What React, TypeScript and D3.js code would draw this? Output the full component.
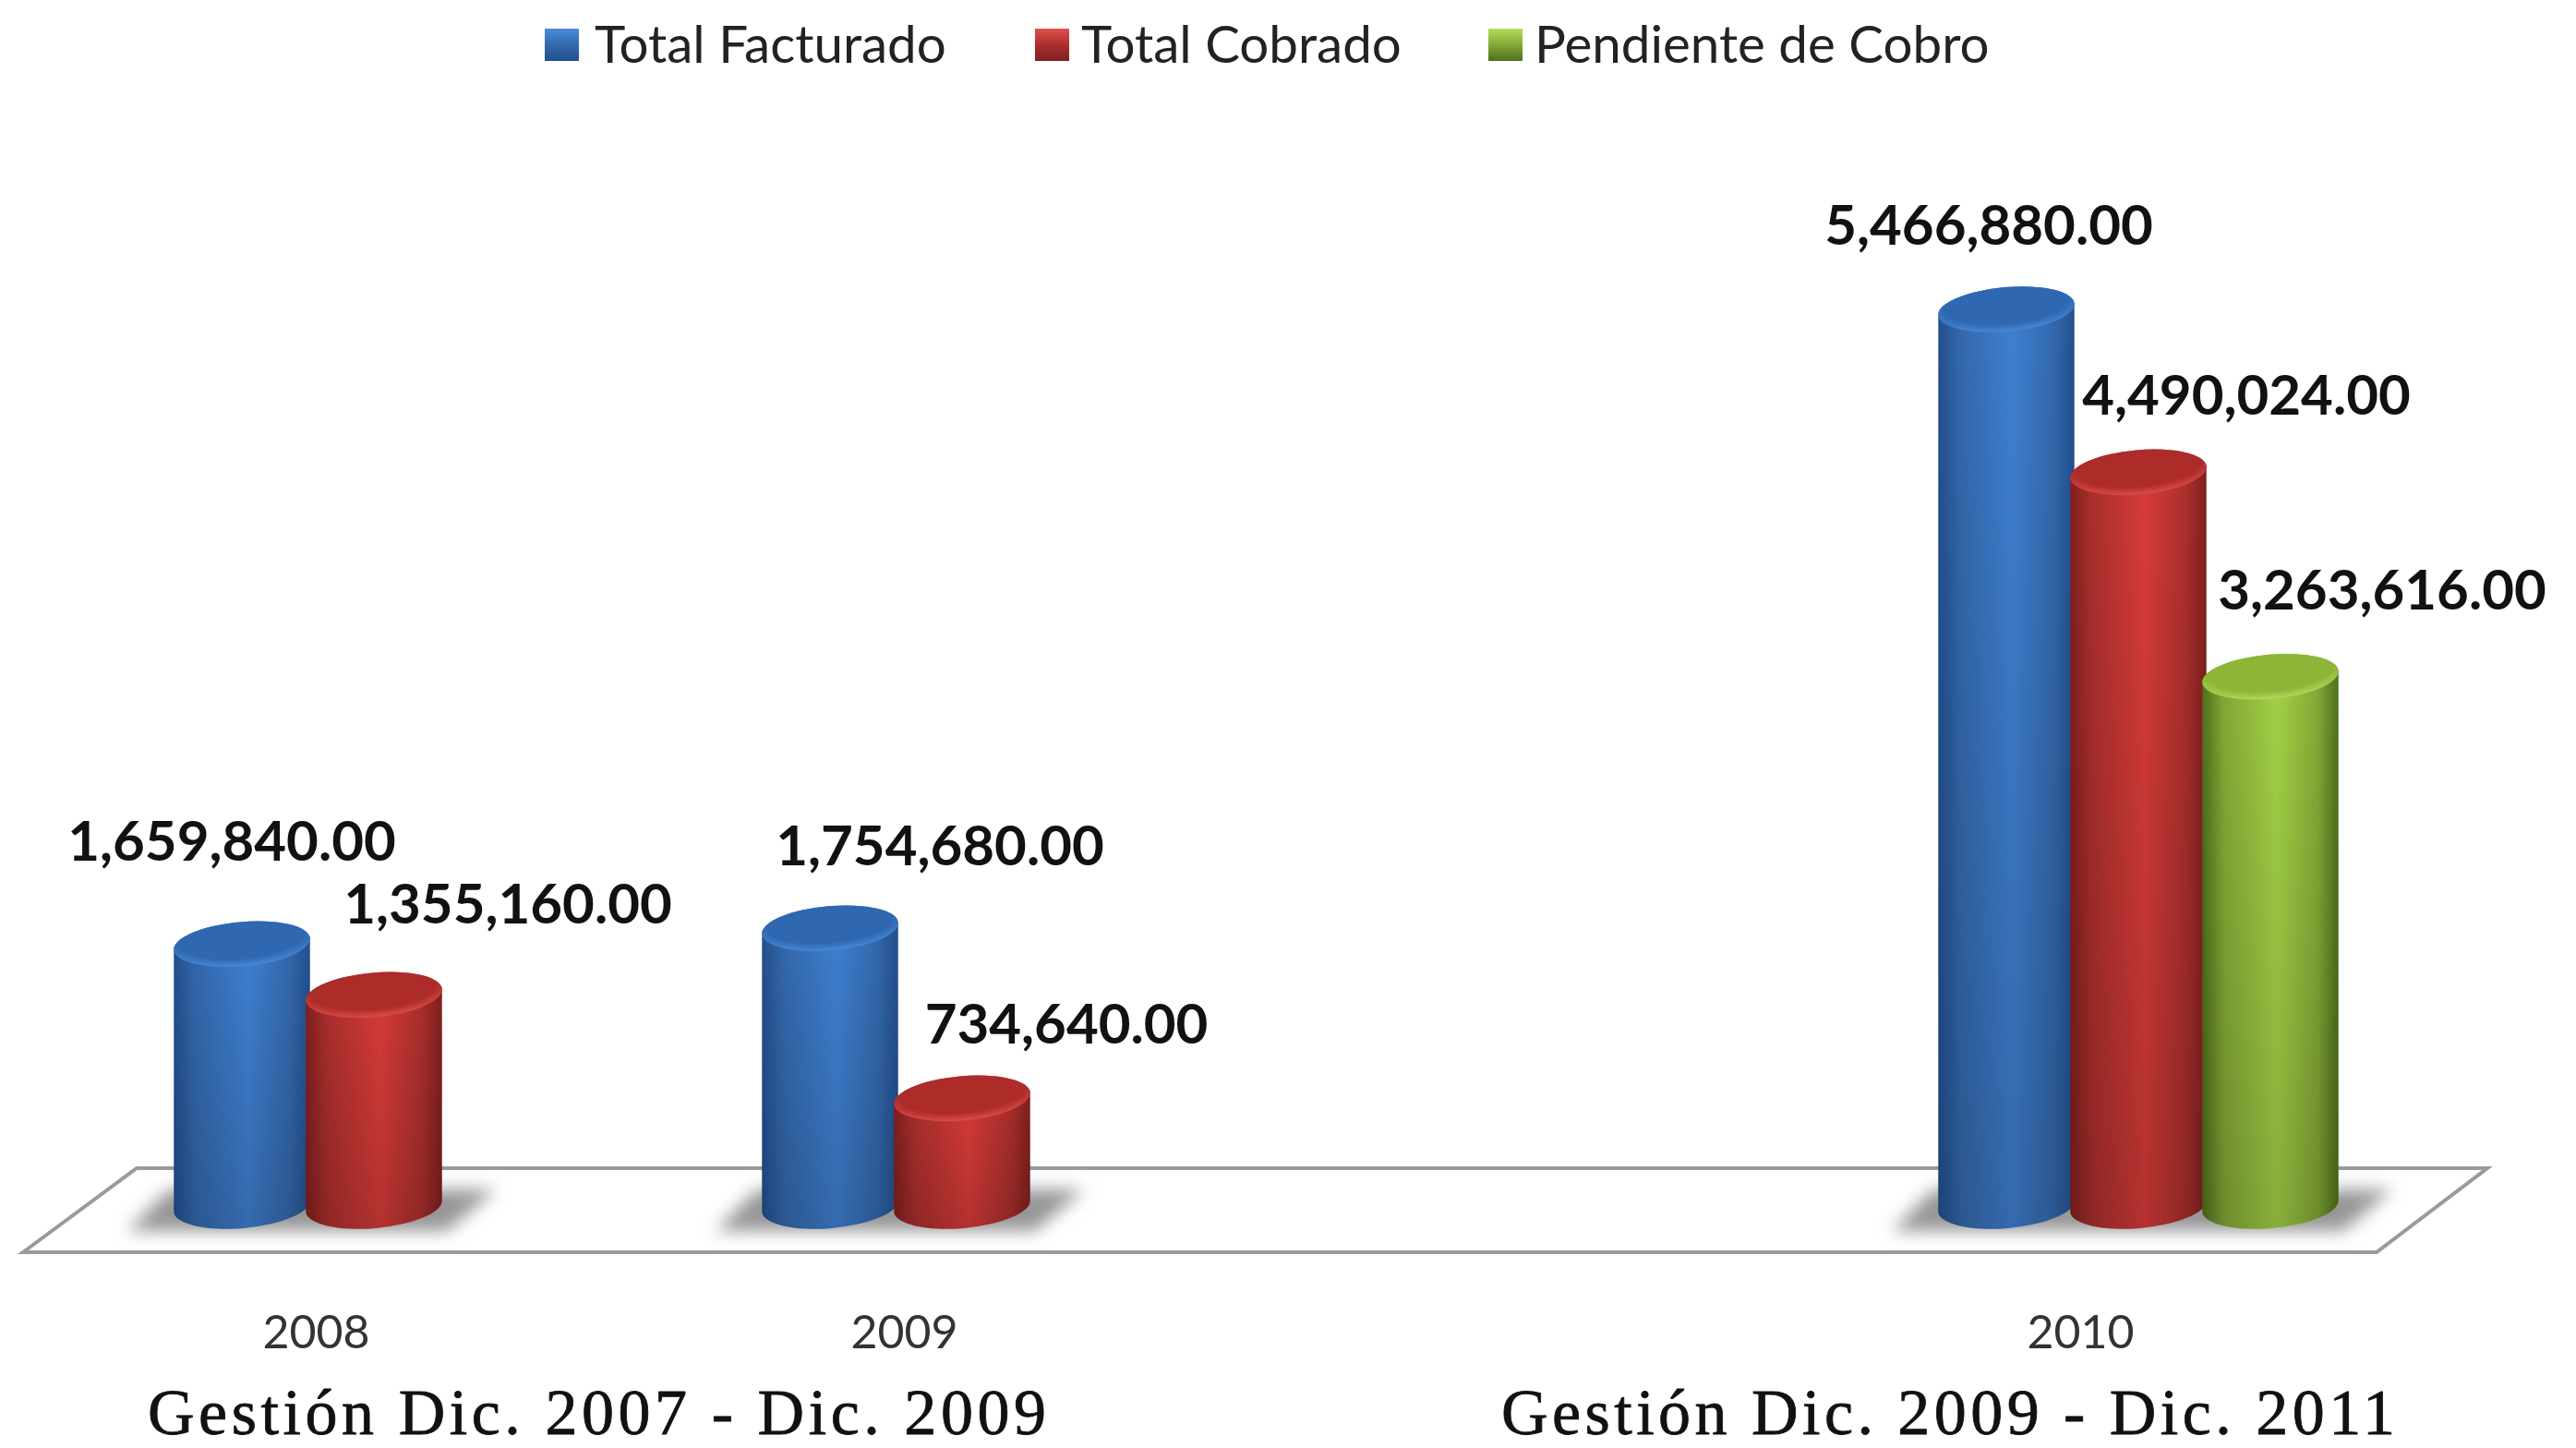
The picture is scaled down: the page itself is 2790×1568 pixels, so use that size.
import React from 'react';
import * as d3 from 'd3';

const categories = ['2008', '2009', '', '2010'];
const seriesNames = ['Total Facturado', 'Total Cobrado', 'Pendiente de Cobro'];
const facturado = [1659840, 1754680, null, 5466880];
const cobrado = [1355160, 734640, null, 4490024];
const pendiente = [null, null, null, 3263616];
const seriesValues = [facturado, cobrado, pendiente];
const headings = ['Gestión Dic. 2007 - Dic. 2009', 'Gestión Dic. 2009 - Dic. 2011'];

const width = 2790, height = 1568;
const rx = 74, ry = 24, tilt = -5;
const baseY = 1306;

// one ramp per series: edge, mid, bright
const ramps = [
    { id: 'blue', edge: '#234f8e', mid: '#3369ad', light: '#3f80d2', cap: '#2f68b0', rim: '#4a8cdc' },
    { id: 'red', edge: '#801f1f', mid: '#ab2f2d', light: '#d83c39', cap: '#ad2c2a', rim: '#e0504c' },
    { id: 'green', edge: '#4f701d', mid: '#84a936', light: '#a4d246', cap: '#8db638', rim: '#b6dc5c' },
];

// label placement, relative to the bar's centre and top: series-category -> [dx, dy]
const labelOffsets: Record<string, [number, number]> = {
    '0-0': [-11, -90], '0-1': [119, -68], '0-3': [-19, -70],
    '1-0': [145, -77], '1-1': [113, -59], '1-3': [117, -62],
    '2-3': [121, -73],
};

const fmt = d3.format(',.2f');
const x = d3.scaleBand<string>().domain(categories.map((c, i) => c || `gap${i}`)).range([24, 2572]);
const xSeries = d3.scaleBand<string>().domain(seriesNames).range([164, 593]);
const y = d3.scaleLinear().domain([0, 5466880]).range([1322, 335]);
const barW = 148;

const floorY = { back: 1265, front: 1356 };
const floorPath = d3.line()([
    [25, floorY.front],
    [148, floorY.back],
    [2694, floorY.back],
    [2574, floorY.front],
]) + 'Z';

function cylinder(cx: number, top: number, base: number) {
    const dx = rx * Math.cos((tilt * Math.PI) / 180);
    const dy = rx * Math.sin((tilt * Math.PI) / 180);
    return `M${cx - dx},${top - dy} A${rx},${ry} ${tilt} 0 1 ${cx + dx},${top + dy} L${cx + dx},${base + dy} A${rx},${ry} ${tilt} 0 1 ${cx - dx},${base - dy} Z`;
}

const legendItems = [
    { swatch: 590, text: 644 },
    { swatch: 1121, text: 1171 },
    { swatch: 1612, text: 1662 },
];

export default function App() {
    const bars = seriesValues.flatMap((vals, s) =>
        vals.map((v, c) => {
            if (v == null) return null;
            const key = categories[c] || `gap${c}`;
            const left = (x(key) as number) + (xSeries(seriesNames[s]) as number);
            const cx = left + barW / 2;
            return { s, c, v, cx, top: y(v), id: `${s}-${c}` };
        }).filter(Boolean)
    ) as { s: number; c: number; v: number; cx: number; top: number; id: string }[];

    const shadows = categories.map((cat, c) => {
        const inCat = bars.filter(b => b.c === c);
        if (!cat || !inCat.length) return null;
        const l = d3.min(inCat, b => b.cx)! - rx;
        const r = d3.max(inCat, b => b.cx)! + rx;
        return d3.line()([[l - 50, 1333], [l - 5, 1288], [r + 58, 1288], [r + 5, 1333]]) + 'Z';
    });

    return (
        <svg width={width} height={height} viewBox={`0 0 ${width} ${height}`}
            style={{ position: 'absolute', left: 0, top: 0, background: '#fff' }}>
            <defs>
                <filter id="shadowBlur" x="-15%" y="-60%" width="130%" height="220%">
                    <feGaussianBlur stdDeviation="9" />
                </filter>
                <linearGradient id="fadeDown" x1="0" x2="0" y1="0" y2="1">
                    <stop offset="0" stopColor="#000" stopOpacity="0" />
                    <stop offset="1" stopColor="#000" stopOpacity="0.17" />
                </linearGradient>
                {ramps.map(r => (
                    <React.Fragment key={r.id}>
                        <linearGradient id={`body-${r.id}`} x1="0" x2="1" y1="0" y2="0">
                            <stop offset="0" stopColor={r.edge} />
                            <stop offset="0.16" stopColor={r.mid} />
                            <stop offset="0.55" stopColor={r.light} />
                            <stop offset="0.85" stopColor={r.mid} />
                            <stop offset="1" stopColor={r.edge} />
                        </linearGradient>
                        <radialGradient id={`cap-${r.id}`} cx="0.5" cy="0.36" r="0.66">
                            <stop offset="0" stopColor={r.cap} />
                            <stop offset="0.7" stopColor={r.cap} />
                            <stop offset="1" stopColor={r.rim} />
                        </radialGradient>
                        <linearGradient id={`swatch-${r.id}`} x1="0" x2="0" y1="0" y2="1">
                            <stop offset="0" stopColor={r.rim} />
                            <stop offset="0.5" stopColor={r.mid} />
                            <stop offset="1" stopColor={r.edge} />
                        </linearGradient>
                    </React.Fragment>
                ))}
            </defs>

            <path d={floorPath} fill="#fff" stroke="#9a9a9a" strokeWidth={4} strokeLinejoin="miter" />

            {shadows.map((d, i) => d && <path key={i} d={d} fill="#969696" filter="url(#shadowBlur)" />)}

            {bars.map(b => {
                const r = ramps[b.s];
                const d = cylinder(b.cx, b.top, baseY);
                return (
                    <g key={b.id}>
                        <path d={d} fill={`url(#body-${r.id})`} />
                        <path d={d} fill="url(#fadeDown)" />
                        <ellipse cx={b.cx} cy={b.top} rx={rx} ry={ry}
                            transform={`rotate(${tilt} ${b.cx} ${b.top})`}
                            fill={`url(#cap-${r.id})`} />
                    </g>
                );
            })}

            {bars.map(b => {
                const [dx, dy] = labelOffsets[b.id];
                return (
                    <text key={b.id} x={b.cx + dx} y={b.top + dy} textAnchor="middle"
                        fontFamily="Lato" fontWeight={700} fontSize={60} fill="#111">
                        {fmt(b.v)}
                    </text>
                );
            })}

            {categories.map(cat => cat && (
                <text key={cat} x={(x(cat) as number) + x.bandwidth() / 2} y={1460} textAnchor="middle"
                    fontFamily="Lato" fontSize={50} fill="#333">
                    {cat}
                </text>
            ))}

            {seriesNames.map((name, i) => (
                <g key={name}>
                    <rect x={legendItems[i].swatch} y={31} width={37} height={35} fill={`url(#swatch-${ramps[i].id})`} />
                    <text x={legendItems[i].text} y={68} fontFamily="Lato" fontSize={56.5} fill="#222">{name}</text>
                </g>
            ))}

            <text x={160} y={1553} fontFamily="Liberation Serif" fontSize={70} fill="#111" stroke="#111" strokeWidth={0.8} textLength={973} lengthAdjust="spacing">{headings[0]}</text>
            <text x={1626} y={1553} fontFamily="Liberation Serif" fontSize={70} fill="#111" stroke="#111" strokeWidth={0.8} textLength={968} lengthAdjust="spacing">{headings[1]}</text>
        </svg>
    );
}
